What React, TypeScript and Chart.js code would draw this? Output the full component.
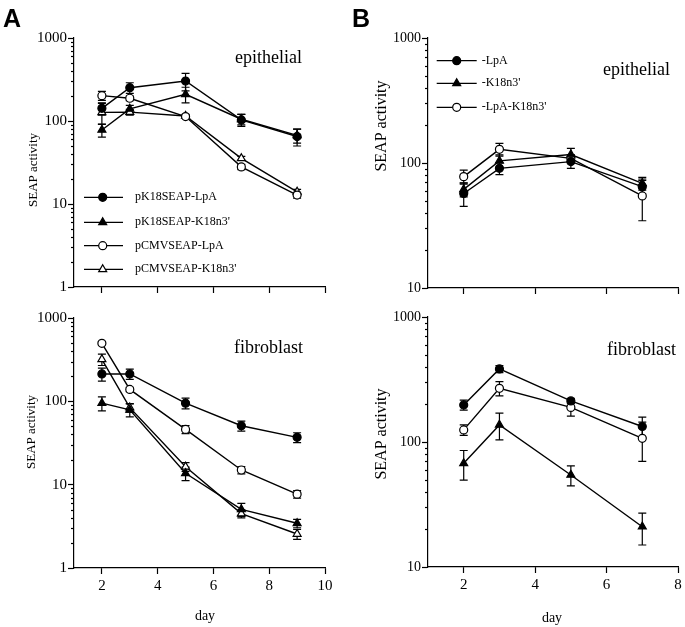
import React, { useEffect, useRef } from "react";
import { Chart, registerables } from "chart.js";

Chart.register(...registerables);

const SERIF = "'Liberation Serif', 'Times New Roman', serif";
const SANS = "'Liberation Sans', Arial, sans-serif";

// ---------- data ----------
const daysA = [2, 3, 5, 7, 9];
const daysB = [2, 3, 5, 7];
const xTicksA = [2, 4, 6, 8, 10];
const xTicksB = [2, 4, 6, 8];
const yTicksA = [1, 10, 100, 1000];
const yTicksB = [10, 100, 1000];

const namesA = ["pK18SEAP-LpA", "pK18SEAP-K18n3'", "pCMVSEAP-LpA", "pCMVSEAP-K18n3'"];
const namesB = ["-LpA", "-K18n3'", "-LpA-K18n3'"];

// Panel A, epithelial
const aEpiK18LpA = [142, 252, 303, 103, 65];
const aEpiK18LpAErr = [24, 37, 72, 17, 15];
const aEpiK18K18 = [78, 140, 210, 105, 67];
const aEpiK18K18Err = [14, 14, 45, 15, 13];
const aEpiCmvLpA = [202, 188, 113, 28, 12.8];
const aEpiCmvLpAErr = [25, 12, 5, 2, 1];
const aEpiCmvK18 = [127, 128, 115, 35.5, 14];
const aEpiCmvK18Err = [36, 10, 5, 2, 1];

// Panel A, fibroblast
const aFibK18LpA = [213, 213, 95, 51, 37];
const aFibK18LpAErr = [38, 30, 14, 7, 5];
const aFibK18K18 = [95, 79, 13.7, 5.06, 3.44];
const aFibK18K18Err = [18, 14, 2.5, 0.9, 0.4];
const aFibCmvLpA = [497, 139, 46, 15, 7.7];
const aFibCmvLpAErr = [20, 8, 5, 1.5, 0.8];
const aFibCmvK18 = [319, 84, 16.4, 4.5, 2.56];
const aFibCmvK18Err = [50, 10, 2, 0.5, 0.35];

// Panel B, epithelial
const bEpiLpA = [57, 90.6, 102.6, 64.7];
const bEpiLpAErr = [12, 10, 12, 8];
const bEpiK18 = [61.5, 104, 117, 68.7];
const bEpiK18Err = [8, 12, 14, 8];
const bEpiLpAK18 = [77.8, 128.6, 109, 54.5];
const bEpiLpAK18Err = [10, 15, 8, 20];

// Panel B, fibroblast
const bFibLpA = [198, 384, 213, 133];
const bFibLpAErr = [18, 25, 10, 25];
const bFibK18 = [67.5, 137, 54.5, 21];
const bFibK18Err = [18, 33, 10, 6];
const bFibLpAK18 = [125, 268.6, 189, 107];
const bFibLpAK18Err = [12, 35, 28, 37];

// ---------- styles ----------
type Marker = { shape: "circle" | "triangle"; fill: string };
const markers: Marker[] = [
  { shape: "circle", fill: "#000" },
  { shape: "triangle", fill: "#000" },
  { shape: "circle", fill: "#fff" },
  { shape: "triangle", fill: "#fff" },
];

type Series = { name: string; values: number[]; errors: number[]; marker: Marker };
type PanelCfg = {
  left: number; top: number; width: number; height: number;
  padding: { top: number; right: number; bottom: number; left: number };
  yWidth: number; xHeight: number;
  xMax: number; days: number[]; xTicks: number[]; yTicks: number[];
  showXLabels: boolean; yFont: number;
  series: Series[];
  letter?: { text: string; x: number; y: number };
  label: { text: string; x: number; y: number };
  yTitle: { x: number; y: number; size: number };
  xTitle?: { x: number; y: number };
  legend?: { rows: number[]; x1: number; x2: number; xm: number; xt: number };
};

const mk = (names: string[], vals: number[][], errs: number[][], idx: number[]): Series[] =>
  names.map((n, i) => ({ name: n, values: vals[i], errors: errs[i], marker: markers[idx[i]] }));

const panels: PanelCfg[] = [
  {
    left: 0, top: 0, width: 340, height: 300,
    padding: { top: 38, right: 15, bottom: 0, left: 0 },
    yWidth: 74, xHeight: 13, xMax: 10, days: daysA, xTicks: xTicksA, yTicks: yTicksA,
    showXLabels: false, yFont: 15,
    series: mk(namesA, [aEpiK18LpA, aEpiK18K18, aEpiCmvLpA, aEpiCmvK18],
      [aEpiK18LpAErr, aEpiK18K18Err, aEpiCmvLpAErr, aEpiCmvK18Err], [0, 1, 2, 3]),
    letter: { text: "A", x: 3, y: 27 },
    label: { text: "epithelial", x: 302, y: 58 },
    yTitle: { x: 34, y: 170, size: 13 },
    legend: { rows: [197.3, 222.3, 245.7, 269.3], x1: 84, x2: 123, xm: 102.7, xt: 135 },
  },
  {
    left: 0, top: 300, width: 340, height: 327,
    padding: { top: 18, right: 15, bottom: 0, left: 0 },
    yWidth: 74, xHeight: 59, xMax: 10, days: daysA, xTicks: xTicksA, yTicks: yTicksA,
    showXLabels: true, yFont: 15,
    series: mk(namesA, [aFibK18LpA, aFibK18K18, aFibCmvLpA, aFibCmvK18],
      [aFibK18LpAErr, aFibK18K18Err, aFibCmvLpAErr, aFibCmvK18Err], [0, 1, 2, 3]),
    label: { text: "fibroblast", x: 303, y: 48 },
    yTitle: { x: 32, y: 132, size: 13 },
    xTitle: { x: 205, y: 316 },
  },
  {
    left: 340, top: 0, width: 345, height: 300,
    padding: { top: 38, right: 7, bottom: 0, left: 0 },
    yWidth: 88, xHeight: 12, xMax: 8, days: daysB, xTicks: xTicksB, yTicks: yTicksB,
    showXLabels: false, yFont: 14,
    series: mk(namesB, [bEpiLpA, bEpiK18, bEpiLpAK18],
      [bEpiLpAErr, bEpiK18Err, bEpiLpAK18Err], [0, 1, 2]),
    letter: { text: "B", x: 12, y: 27 },
    label: { text: "epithelial", x: 330, y: 70 },
    yTitle: { x: 42, y: 126, size: 16 },
    legend: { rows: [60.7, 83.3, 107.3], x1: 96.7, x2: 136.7, xm: 116.7, xt: 141.7 },
  },
  {
    left: 340, top: 300, width: 345, height: 327,
    padding: { top: 17, right: 7, bottom: 0, left: 0 },
    yWidth: 88, xHeight: 60, xMax: 8, days: daysB, xTicks: xTicksB, yTicks: yTicksB,
    showXLabels: true, yFont: 14,
    series: mk(namesB, [bFibLpA, bFibK18, bFibLpAK18],
      [bFibLpAErr, bFibK18Err, bFibLpAK18Err], [0, 1, 2]),
    label: { text: "fibroblast", x: 336, y: 50 },
    yTitle: { x: 42, y: 134, size: 16 },
    xTitle: { x: 212, y: 318 },
  },
];

function drawMarker(ctx: CanvasRenderingContext2D, m: Marker, x: number, y: number, r: number) {
  ctx.beginPath();
  if (m.shape === "circle") {
    ctx.arc(x, y, r, 0, Math.PI * 2);
  } else {
    let rad = 0;
    const rr = r * 1.15;
    ctx.moveTo(x + Math.sin(rad) * rr, y - Math.cos(rad) * rr);
    rad += (2 * Math.PI) / 3;
    ctx.lineTo(x + Math.sin(rad) * rr, y - Math.cos(rad) * rr);
    rad += (2 * Math.PI) / 3;
    ctx.lineTo(x + Math.sin(rad) * rr, y - Math.cos(rad) * rr);
    ctx.closePath();
  }
  ctx.fillStyle = m.fill;
  ctx.fill();
  ctx.lineWidth = 1.2;
  ctx.strokeStyle = "#000";
  ctx.stroke();
}

function buildConfig(cfg: PanelCfg): any {
  const decor = {
    id: "decor",
    beforeDatasetsDraw(chart: any) {
      const ctx: CanvasRenderingContext2D = chart.ctx;
      const ys = chart.scales.y;
      const area = chart.chartArea;
      ctx.save();
      ctx.strokeStyle = "#000";
      ctx.lineWidth = 1.2;
      // minor log ticks
      for (let d = 0; d < cfg.yTicks.length - 1; d++) {
        for (let k = 2; k <= 9; k++) {
          const py = Math.round(ys.getPixelForValue(cfg.yTicks[d] * k)) + 0.5;
          ctx.beginPath();
          ctx.moveTo(area.left - 3, py);
          ctx.lineTo(area.left, py);
          ctx.stroke();
        }
      }
      // error bars
      cfg.series.forEach((s, di) => {
        const meta = chart.getDatasetMeta(di);
        meta.data.forEach((pt: any, i: number) => {
          const v = s.values[i];
          const e = s.errors[i];
          const yTop = ys.getPixelForValue(v + e);
          const yBot = ys.getPixelForValue(Math.max(v - e, 1e-6));
          const x = pt.x;
          ctx.beginPath();
          ctx.moveTo(x, yTop);
          ctx.lineTo(x, yBot);
          ctx.moveTo(x - 4, yTop);
          ctx.lineTo(x + 4, yTop);
          ctx.moveTo(x - 4, yBot);
          ctx.lineTo(x + 4, yBot);
          ctx.stroke();
        });
      });
      ctx.restore();
    },
    afterDraw(chart: any) {
      const ctx: CanvasRenderingContext2D = chart.ctx;
      ctx.save();
      ctx.fillStyle = "#000";
      if (cfg.letter) {
        ctx.font = `bold 25px ${SANS}`;
        ctx.textAlign = "left";
        ctx.textBaseline = "alphabetic";
        ctx.fillText(cfg.letter.text, cfg.letter.x, cfg.letter.y);
      }
      ctx.font = `18px ${SERIF}`;
      ctx.textAlign = "right";
      ctx.textBaseline = "middle";
      ctx.fillText(cfg.label.text, cfg.label.x, cfg.label.y);
      // y title
      ctx.save();
      ctx.translate(cfg.yTitle.x, cfg.yTitle.y);
      ctx.rotate(-Math.PI / 2);
      ctx.font = `${cfg.yTitle.size}px ${SERIF}`;
      ctx.textAlign = "center";
      ctx.textBaseline = "middle";
      ctx.fillText("SEAP activity", 0, 0);
      ctx.restore();
      if (cfg.xTitle) {
        ctx.font = `14px ${SERIF}`;
        ctx.textAlign = "center";
        ctx.textBaseline = "middle";
        ctx.fillText("day", cfg.xTitle.x, cfg.xTitle.y);
      }
      if (cfg.legend) {
        const lg = cfg.legend;
        cfg.series.forEach((s, i) => {
          const y = lg.rows[i];
          ctx.strokeStyle = "#000";
          ctx.lineWidth = 1.3;
          ctx.beginPath();
          ctx.moveTo(lg.x1, y);
          ctx.lineTo(lg.x2, y);
          ctx.stroke();
          drawMarker(ctx, s.marker, lg.xm, y, 4);
          ctx.fillStyle = "#000";
          ctx.font = `12px ${SERIF}`;
          ctx.textAlign = "left";
          ctx.textBaseline = "middle";
          ctx.fillText(s.name, lg.xt, y);
        });
      }
      ctx.restore();
    },
  };

  return {
    type: "line",
    data: {
      datasets: cfg.series.map((s) => ({
        label: s.name,
        data: cfg.days.map((d, i) => ({ x: d, y: s.values[i] })),
        borderColor: "#000",
        borderWidth: 1.4,
        pointStyle: s.marker.shape,
        pointRadius: s.marker.shape === "triangle" ? 4.6 : 4,
        pointBackgroundColor: s.marker.fill,
        pointBorderColor: "#000",
        pointBorderWidth: 1.2,
        tension: 0,
        fill: false,
      })),
    },
    options: {
      responsive: false,
      animation: false,
      events: [],
      layout: { padding: cfg.padding },
      plugins: { legend: { display: false }, tooltip: { enabled: false } },
      scales: {
        x: {
          type: "linear",
          min: 1,
          max: cfg.xMax,
          afterBuildTicks: (scale: any) => {
            scale.ticks = cfg.xTicks.map((v) => ({ value: v }));
          },
          afterFit: (scale: any) => {
            scale.height = cfg.xHeight;
            scale.paddingLeft = 0;
            scale.paddingRight = 0;
          },
          ticks: {
            display: cfg.showXLabels,
            color: "#000",
            padding: 3,
            maxRotation: 0,
            autoSkip: false,
            font: { family: SERIF, size: 15 },
          },
          grid: { drawOnChartArea: false, drawTicks: true, tickLength: 6, color: "#000", tickWidth: 1.2 },
          border: { color: "#000", width: 1.2 },
        },
        y: {
          type: "logarithmic",
          min: cfg.yTicks[0],
          max: cfg.yTicks[cfg.yTicks.length - 1],
          afterBuildTicks: (scale: any) => {
            scale.ticks = cfg.yTicks.map((v) => ({ value: v, major: true }));
          },
          afterFit: (scale: any) => {
            scale.width = cfg.yWidth;
            scale.paddingTop = 0;
            scale.paddingBottom = 0;
          },
          ticks: {
            color: "#000",
            padding: 1,
            autoSkip: false,
            font: { family: SERIF, size: cfg.yFont },
            callback: (v: any) => String(v),
          },
          grid: { drawOnChartArea: false, drawTicks: true, tickLength: 6, color: "#000", tickWidth: 1.2 },
          border: { color: "#000", width: 1.2 },
        },
      },
    },
    plugins: [decor],
  };
}

function Panel({ cfg }: { cfg: PanelCfg }) {
  const ref = useRef<HTMLCanvasElement>(null);
  useEffect(() => {
    const chart = new Chart(ref.current as HTMLCanvasElement, buildConfig(cfg));
    return () => chart.destroy();
  }, [cfg]);
  return (
    <canvas
      ref={ref}
      width={cfg.width}
      height={cfg.height}
      style={{ position: "absolute", left: cfg.left, top: cfg.top, width: cfg.width, height: cfg.height }}
    />
  );
}

export default function App() {
  return (
    <div style={{ position: "absolute", left: 0, top: 0, width: 685, height: 627, background: "#fff" }}>
      {panels.map((p, i) => (
        <Panel key={i} cfg={p} />
      ))}
    </div>
  );
}
